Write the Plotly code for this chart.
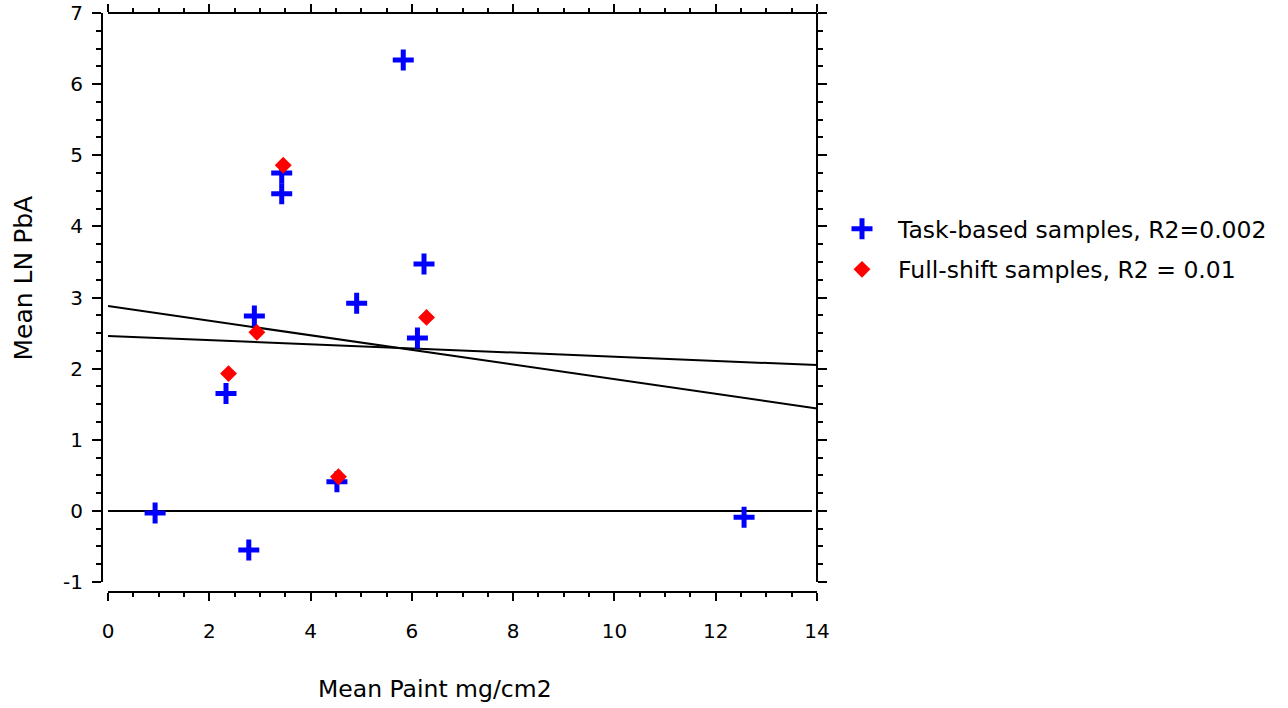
import plotly.graph_objects as go

# ---- data ----
task_x = [0.93, 2.78, 2.33, 2.89, 4.52, 4.91, 6.11, 6.24, 5.83, 3.43, 3.43, 12.56]
task_y = [-0.03, -0.55, 1.65, 2.74, 0.41, 2.92, 2.43, 3.47, 6.34, 4.75, 4.46, -0.09]

full_x = [2.38, 2.94, 3.46, 4.55, 6.29]
full_y = [1.93, 2.51, 4.86, 0.48, 2.72]

fit_x = [0, 14]
task_fit_y = [2.46, 2.05]
full_fit_y = [2.88, 1.44]

zero_x = [0, 13.9]
zero_y = [0, 0]

x_tickvals = [0, 2, 4, 6, 8, 10, 12, 14]
x_ticktext = ["0", "2", "4", "6", "8", "10", "12", "14"]
y_tickvals = [-1, 0, 1, 2, 3, 4, 5, 6, 7]
y_ticktext = ["-1", "0", "1", "2", "3", "4", "5", "6", "7"]

task_name = "Task-based samples, R2=0.002"
full_name = "Full-shift samples, R2 = 0.01"
x_title = "Mean Paint mg/cm2"
y_title = "Mean LN PbA"

# the page body margin is removed (post_script), so screen px == figure px
W, H = 1288, 708


def px(xs):
    return xs / W


def py(ys):
    return 1 - ys / H


FONT = "DejaVu Sans"
FS_TICK = 20
FS_TEXT = 23.5

fig = go.Figure()

line_style = dict(color="black", width=2)
fig.add_trace(go.Scatter(x=zero_x, y=zero_y, mode="lines", line=line_style,
                         showlegend=False, hoverinfo="skip"))
fig.add_trace(go.Scatter(x=fit_x, y=task_fit_y, mode="lines", line=line_style,
                         showlegend=False, hoverinfo="skip"))
fig.add_trace(go.Scatter(x=fit_x, y=full_fit_y, mode="lines", line=line_style,
                         showlegend=False, hoverinfo="skip"))

fig.add_trace(go.Scatter(
    x=task_x, y=task_y, mode="markers", name=task_name, legendgroup="a",
    marker=dict(symbol="cross-thin", size=15, color="#0000FF",
                line=dict(color="#0000FF", width=5))))
fig.add_trace(go.Scatter(
    x=full_x, y=full_y, mode="markers", name=full_name, legendgroup="b",
    marker=dict(symbol="diamond", size=13, color="#FF0000",
                line=dict(width=0))))

# empty trace so the top / right frame axes are drawn
fig.add_trace(go.Scatter(x=[None], y=[None], xaxis="x2", yaxis="y2",
                         showlegend=False, hoverinfo="skip"))

xd = [px(108), px(817)]
yd = [py(582), py(13)]

axis_common = dict(showgrid=False, zeroline=False, showline=True, linecolor="black",
                   linewidth=2, ticks="outside", tickcolor="black", tickwidth=2,
                   tickfont=dict(family=FONT, size=FS_TICK, color="black"),
                   ticklabeloverflow="allow", automargin=False)
x_minor = dict(dtick=0.5, ticklen=4, tickwidth=2, ticks="outside", tickcolor="black")
y_minor = dict(dtick=0.25, ticklen=5, tickwidth=2, ticks="outside", tickcolor="black")

fig.update_layout(
    width=W, height=H,
    margin=dict(l=0, r=0, t=0, b=0, autoexpand=False),
    paper_bgcolor="white", plot_bgcolor="white",
    font=dict(family=FONT, size=FS_TEXT, color="black"),
    xaxis=dict(domain=xd, range=[0, 14], anchor="free", position=py(592),
               tickmode="array", tickvals=x_tickvals, ticktext=x_ticktext,
               ticklen=8, ticklabelstandoff=13, minor=x_minor, **axis_common),
    yaxis=dict(domain=yd, range=[-1, 7], anchor="free", position=px(102),
               tickmode="array", tickvals=y_tickvals, ticktext=y_ticktext,
               ticklen=9, ticklabelstandoff=5, minor=y_minor, **axis_common),
    xaxis2=dict(overlaying="x", side="top", range=[0, 14], anchor="free",
                position=py(13), tickmode="array", tickvals=x_tickvals,
                ticklen=8, showticklabels=False, minor=x_minor, **axis_common),
    yaxis2=dict(overlaying="y", side="right", range=[-1, 7], anchor="free",
                position=px(817), tickmode="array", tickvals=y_tickvals,
                ticklen=9, showticklabels=False, minor=y_minor, **axis_common),
    legend=dict(x=px(826), y=py(207), xanchor="left", yanchor="top",
                font=dict(family=FONT, size=FS_TEXT, color="black"),
                traceorder="grouped", tracegroupgap=7, itemwidth=62,
                bgcolor="rgba(0,0,0,0)", borderwidth=0),
    annotations=[
        dict(text=x_title, x=px(435), y=py(689), xref="paper", yref="paper",
             xanchor="center", yanchor="middle", showarrow=False,
             font=dict(family=FONT, size=FS_TEXT, color="black")),
        dict(text=y_title, x=px(22.5), y=py(278), xref="paper", yref="paper",
             xanchor="center", yanchor="middle", showarrow=False, textangle=-90,
             font=dict(family=FONT, size=25, color="black")),
    ],
)

fig.write_html(
    "out.html",
    config={"displayModeBar": False},
    post_script="document.body.style.margin='0';document.body.style.overflow='hidden';",
)
